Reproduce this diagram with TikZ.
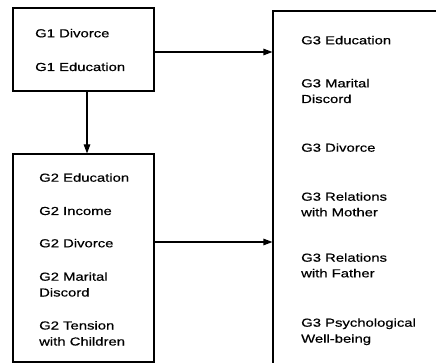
\documentclass[tikz,border=0pt]{standalone}
\usepackage{fontspec}
\setmainfont{Liberation Sans}[FakeStretch=1.28,FakeBold=0.5]
\usetikzlibrary{arrows.meta}
\tikzset{
  box/.style={draw=black, line width=1.1pt, fill=none, inner sep=0pt},
  lbl/.style={anchor=base west, inner sep=0pt, font=\fontsize{11.6pt}{13pt}\selectfont},
  arr/.style={draw=black, line width=1.1pt, -{Triangle[length=9pt,width=6.5pt]}}
}
\begin{document}
\begin{tikzpicture}[x=1pt,y=-1pt]
\clip (0,0) rectangle (436,363);
\fill[white] (0,0) rectangle (436,363);
% boxes
\node[box, minimum width=141pt, minimum height=83pt] (g1) at (83.5,49.5) {};
\node[box, minimum width=141pt, minimum height=208pt] (g2) at (83.5,258) {};
\node[box, minimum width=197pt, minimum height=389pt] (g3) at (371.5,205.5) {};
% G1 labels
\node[lbl] (t1a) at (35,37.3) {G1 Divorce};
\node[lbl] (t1b) at (35,71) {G1 Education};
% G2 labels
\node[lbl] (t2a) at (39,181.7) {G2 Education};
\node[lbl] (t2b) at (39,215) {G2 Income};
\node[lbl] (t2c) at (39,247.3) {G2 Divorce};
\node[lbl] (t2d) at (39,280.7) {G2 Marital};
\node[lbl] (t2e) at (39,296.5) {Discord};
\node[lbl] (t2f) at (39,329.5) {G2 Tension};
\node[lbl] (t2g) at (39,345.5) {with Children};
% G3 labels
\node[lbl] (t3a) at (301,44.3) {G3 Education};
\node[lbl] (t3b) at (301,87.3) {G3 Marital};
\node[lbl] (t3c) at (301,103) {Discord};
\node[lbl] (t3d) at (301,151.7) {G3 Divorce};
\node[lbl] (t3e) at (301,200.7) {G3 Relations};
\node[lbl] (t3f) at (301,216.3) {with Mother};
\node[lbl] (t3g) at (301,261.7) {G3 Relations};
\node[lbl] (t3h) at (301,277.3) {with Father};
\node[lbl] (t3i) at (301,326.7) {G3 Psychological};
\node[lbl] (t3j) at (301,342.7) {Well-being};
% connectors
\draw[arr] ([xshift=3.5pt]g1.south) -- ([xshift=3.5pt]g2.north);
\draw[arr] ([yshift=-2.5pt]g1.east) -- ([yshift=-2.5pt]g1.east -| g3.west);
\draw[arr] ([yshift=16pt]g2.east) -- ([yshift=16pt]g2.east -| g3.west);
\end{tikzpicture}
\end{document}
